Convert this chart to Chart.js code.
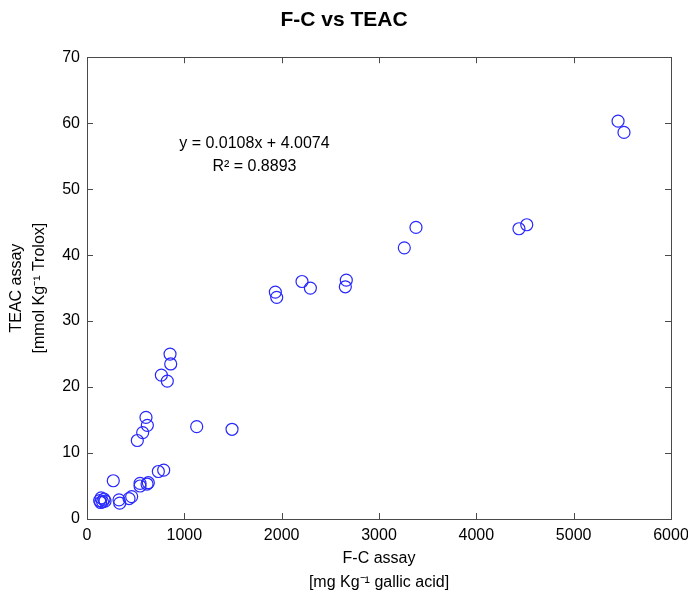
<!DOCTYPE html>
<html>
<head>
<meta charset="utf-8">
<script src="https://cdn.jsdelivr.net/npm/chart.js@4.4.1/dist/chart.umd.min.js"></script>
<style>
html,body{margin:0;padding:0;background:#fff;}
#wrap{width:688px;height:595px;}
</style>
</head>
<body>
<div id="wrap"><canvas id="c" width="688" height="595"></canvas></div>
<script>
// Data
const fcAssay = [5456, 5517, 4438, 4518, 3380, 3260, 2664, 2654, 2209, 2295, 1935, 1949,
  853, 860, 764, 825, 606, 620, 572, 517, 1127, 1490,
  270, 788, 733, 630, 617, 545, 545, 459, 432, 329, 336,
  130, 145, 160, 175, 140, 185];
const teacAssay = [60.3, 58.6, 44.0, 44.6, 44.2, 41.1, 36.2, 35.2, 36.0, 35.0, 34.4, 33.6,
  25.0, 23.5, 21.8, 20.9, 15.4, 14.2, 13.1, 11.9, 14.0, 13.6,
  5.8, 7.4, 7.2, 5.5, 5.3, 5.4, 5.0, 3.4, 3.1, 2.9, 2.4,
  2.8, 3.2, 2.6, 3.0, 2.5, 2.7];
const xTicks = [0, 1000, 2000, 3000, 4000, 5000, 6000];
const yTicks = [0, 10, 20, 30, 40, 50, 60, 70];
const titleText = 'F-C vs TEAC';
const xTitle = ['F-C assay', '[mg Kg\u207B\u00B9 gallic acid]'];
const yTitle = ['TEAC assay', '[mmol Kg\u207B\u00B9 Trolox]'];
const fitLines = ['y = 0.0108x + 4.0074', 'R\u00B2 = 0.8893'];

const points = fcAssay.map((x, i) => ({x: x, y: teacAssay[i]}));
const FONT = "'Liberation Sans', Arial, sans-serif";
const AXIS_COLOR = '#4a4a4a';

const framePlugin = {
  id: 'frame',
  afterDraw(chart) {
    const {ctx, chartArea: a, scales} = chart;
    ctx.save();
    ctx.strokeStyle = AXIS_COLOR;
    ctx.lineWidth = 1;
    ctx.strokeRect(Math.round(a.left) + 0.5, Math.round(a.top) + 0.5,
      Math.round(a.right - a.left), Math.round(a.bottom - a.top));
    const L = 6;
    ctx.beginPath();
    xTicks.forEach(v => {
      const px = Math.round(scales.x.getPixelForValue(v)) + 0.5;
      ctx.moveTo(px, a.bottom); ctx.lineTo(px, a.bottom - L);
      ctx.moveTo(px, a.top); ctx.lineTo(px, a.top + L);
    });
    yTicks.forEach(v => {
      const py = Math.round(scales.y.getPixelForValue(v)) + 0.5;
      ctx.moveTo(a.left, py); ctx.lineTo(a.left + L, py);
      ctx.moveTo(a.right, py); ctx.lineTo(a.right - L, py);
    });
    ctx.stroke();
    // regression annotation, anchored in data space
    ctx.fillStyle = '#000';
    ctx.font = '16px ' + FONT;
    ctx.textAlign = 'center';
    ctx.textBaseline = 'middle';
    const ax = scales.x.getPixelForValue(1720);
    ctx.fillText(fitLines[0], ax, scales.y.getPixelForValue(56.9));
    ctx.fillText(fitLines[1], ax, scales.y.getPixelForValue(53.4));
    ctx.restore();
  }
};

new Chart(document.getElementById('c'), {
  type: 'scatter',
  data: {
    datasets: [{
      data: points,
      pointStyle: 'circle',
      pointRadius: 6,
      pointHoverRadius: 6,
      borderWidth: 1.2,
      pointBorderColor: 'rgb(40,40,255)',
      pointBackgroundColor: 'rgba(0,0,0,0)',
      borderColor: 'rgb(40,40,255)',
      backgroundColor: 'rgba(0,0,0,0)'
    }]
  },
  options: {
    responsive: false,
    animation: false,
    events: [],
    layout: {padding: {left: 0, right: 0, top: 0, bottom: 0}},
    plugins: {
      legend: {display: false},
      tooltip: {enabled: false},
      title: {
        display: true,
        text: titleText,
        color: '#000',
        font: {family: FONT, size: 21, weight: 'bold', lineHeight: 1.2},
        padding: {top: 8, bottom: 24}
      }
    },
    scales: {
      x: {
        type: 'linear',
        min: 0, max: 6000,
        afterFit(s) { s.height = 76; s.paddingRight = 17; },
        afterBuildTicks(s) { s.ticks = xTicks.map(v => ({value: v})); },
        grid: {display: false, drawTicks: false},
        border: {display: false},
        ticks: {color: '#000', padding: 7, font: {family: FONT, size: 16}, maxRotation: 0,
          callback: v => String(v)},
        title: {display: true, text: xTitle, color: '#000',
          font: {family: FONT, size: 16, lineHeight: 1.5}, padding: {top: 0, bottom: 0}}
      },
      y: {
        type: 'linear',
        min: 0, max: 70,
        afterFit(s) { s.width = 87; },
        afterBuildTicks(s) { s.ticks = yTicks.map(v => ({value: v})); },
        grid: {display: false, drawTicks: false},
        border: {display: false},
        ticks: {color: '#000', padding: 7, font: {family: FONT, size: 16},
          callback: v => String(v)},
        title: {display: true, text: yTitle, color: '#000',
          font: {family: FONT, size: 16, lineHeight: 1.45}, padding: {top: 5, bottom: 0}}
      }
    }
  },
  plugins: [framePlugin]
});
</script>
</body>
</html>
